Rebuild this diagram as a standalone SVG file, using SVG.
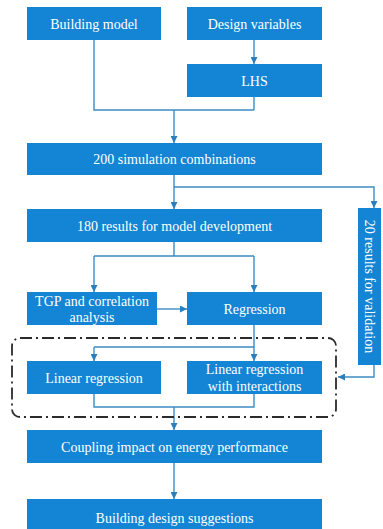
<svg xmlns="http://www.w3.org/2000/svg" width="383" height="529" viewBox="0 0 383 529">
<defs>
<marker id="ah" viewBox="0 0 10 10" refX="10" refY="5" markerWidth="7" markerHeight="7" markerUnits="userSpaceOnUse" orient="auto">
<path d="M0,0 L10,5 L0,10 z" fill="#2a80bd"/>
</marker>
<style>
.box{fill:#1385d4;}
.t{font-size:14px;fill:#ffffff;text-anchor:middle;}
.c{fill:none;stroke:#3d8cc4;stroke-width:1.4;}
.a{marker-end:url(#ah);}
</style>
</defs>
<rect width="383" height="529" fill="#ffffff"/>
<g id="connectors">
<path class="c" d="M94,40 V110 H254 M254,97 V110"/>
<path class="c a" d="M174,110 V143"/>
<path class="c a" d="M254,40 V64"/>
<path class="c a" d="M174,175 V209"/>
<path class="c a" d="M174,187 H374 V208"/>
<path class="c" d="M174,242 V256 M94,256 H254"/>
<path class="c a" d="M94,256 V292"/>
<path class="c a" d="M254,256 V292"/>
<path class="c a" d="M157,309 H187"/>
<path class="c" d="M254,325 V347 M94,347 H254"/>
<path class="c a" d="M94,347 V361"/>
<path class="c a" d="M254,347 V361"/>
<path class="c" d="M94,394 V407 H254 V394"/>
<path class="c a" d="M174,407 V430"/>
<path class="c a" d="M174,463 V499"/>
<path class="c a" d="M374,365 V377 H338"/>
</g>
<g id="group-box">
<rect x="12" y="338" width="324" height="79" rx="8" fill="none" stroke="#2b2b2b" stroke-width="1.8" stroke-dasharray="12,4,2,4"/>
</g>
<g font-family="'Liberation Serif', 'Times New Roman', serif">
<g id="building-model"><rect class="box" x="27" y="7" width="134" height="33"/><text class="t" x="94" y="28.5">Building model</text></g>
<g id="design-variables"><rect class="box" x="187" y="7" width="135" height="33"/><text class="t" x="254.5" y="28.5">Design variables</text></g>
<g id="lhs"><rect class="box" x="187" y="64" width="135" height="33"/><text class="t" x="254.5" y="85.5">LHS</text></g>
<g id="sim200"><rect class="box" x="27" y="143" width="295" height="32"/><text class="t" x="174.5" y="164">200 simulation combinations</text></g>
<g id="results180"><rect class="box" x="27" y="209" width="295" height="33"/><text class="t" x="174.5" y="230.5">180 results for model development</text></g>
<g id="validation"><rect class="box" x="358" y="208" width="23" height="157"/><text class="t" transform="translate(369.5,286.5) rotate(90)" x="0" y="5">20 results for validation</text></g>
<g id="tgp"><rect class="box" x="27" y="292" width="130" height="33"/><text class="t" x="92" y="305.5">TGP and correlation</text><text class="t" x="92" y="322">analysis</text></g>
<g id="regression"><rect class="box" x="187" y="292" width="135" height="33"/><text class="t" x="254.5" y="313.5">Regression</text></g>
<g id="linear-regression"><rect class="box" x="27" y="361" width="134" height="33"/><text class="t" x="94" y="382.5">Linear regression</text></g>
<g id="linear-regression-interactions"><rect class="box" x="187" y="361" width="135" height="33"/><text class="t" x="254.5" y="374">Linear regression</text><text class="t" x="254.5" y="391">with interactions</text></g>
<g id="coupling"><rect class="box" x="27" y="430" width="295" height="33"/><text class="t" x="174.5" y="451.5">Coupling impact on energy performance</text></g>
<g id="suggestions"><rect class="box" x="27" y="499" width="295" height="33"/><text class="t" x="174.5" y="523">Building design suggestions</text></g>
</g>
</svg>
